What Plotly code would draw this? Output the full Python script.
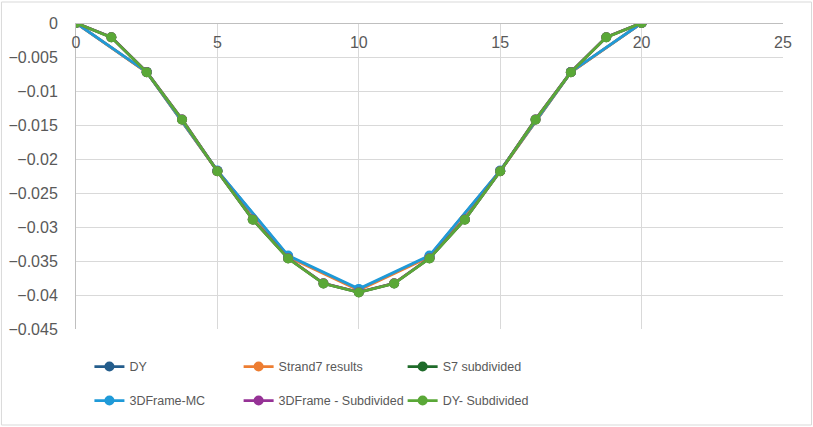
import plotly.graph_objects as go

# node positions along the member
x_coarse = [0, 2.5, 5, 7.5, 10, 12.5, 15, 17.5, 20]
x_fine = [0, 1.25, 2.5, 3.75, 5, 6.25, 7.5, 8.75, 10,
          11.25, 12.5, 13.75, 15, 16.25, 17.5, 18.75, 20]

# deflections
dy = [0, -0.00723, -0.02175, -0.03430, -0.03920, -0.03430, -0.02175, -0.00723, 0]
strand7 = [0, -0.00725, -0.02180, -0.03440, -0.03930, -0.03440, -0.02180, -0.00725, 0]
s7_sub = [0, -0.00210, -0.00722, -0.01420, -0.02180, -0.02890, -0.03460, -0.03830, -0.03960,
          -0.03830, -0.03460, -0.02890, -0.02180, -0.01420, -0.00722, -0.00210, 0]
frame_mc = [0, -0.00720, -0.02170, -0.03420, -0.03910, -0.03420, -0.02170, -0.00720, 0]
frame_sub = [0, -0.00210, -0.00721, -0.01418, -0.02178, -0.02888, -0.03458, -0.03828, -0.03958,
             -0.03828, -0.03458, -0.02888, -0.02178, -0.01418, -0.00721, -0.00210, 0]
dy_sub = [0, -0.00211, -0.00723, -0.01421, -0.02181, -0.02892, -0.03462, -0.03832, -0.03962,
          -0.03832, -0.03462, -0.02892, -0.02181, -0.01421, -0.00723, -0.00211, 0]

series = [
    ("DY", x_coarse, dy, "#245d8c"),
    ("Strand7 results", x_coarse, strand7, "#ed7d31"),
    ("S7 subdivided", x_fine, s7_sub, "#1f6b2a"),
    ("3DFrame-MC", x_coarse, frame_mc, "#1f9ad8"),
    ("3DFrame - Subdivided", x_fine, frame_sub, "#963296"),
    ("DY- Subdivided", x_fine, dy_sub, "#5aa837"),
]

# one small legend per entry, laid out as a 3 x 2 grid like the Excel legend
legend_names = ["legend", "legend2", "legend3", "legend4", "legend5", "legend6"]
col_x = [0.019, 0.230, 0.462]
row_y = [-0.124, -0.235]

grid = "#d9d9d9"
tick_font = dict(family="Liberation Sans, Arial, sans-serif", size=16, color="#595959")
legend_font = dict(family="Liberation Sans, Arial, sans-serif", size=12.5, color="#595959")

fig = go.Figure()
for (name, xs, ys, color), leg in zip(series, legend_names):
    fig.add_trace(go.Scatter(
        x=xs, y=ys, name=name, mode="lines+markers",
        line=dict(color=color, width=2.8),
        marker=dict(color=color, size=10),
        legend=leg,
    ))

legends = {}
for i, leg in enumerate(legend_names):
    legends[leg] = dict(
        orientation="h", x=col_x[i % 3], y=row_y[i // 3],
        xanchor="left", yanchor="middle", itemwidth=30,
        font=legend_font, bgcolor="rgba(0,0,0,0)",
    )

fig.update_layout(
    width=813, height=427,
    margin=dict(l=76, r=30, t=23, b=98, autoexpand=False),
    paper_bgcolor="white", plot_bgcolor="white",
    showlegend=True,
    xaxis=dict(
        range=[0, 25], dtick=5, side="bottom", anchor="free", position=1,
        showgrid=True, gridcolor=grid, gridwidth=1,
        showline=True, linecolor="#bfbfbf", linewidth=1,
        zeroline=False, tickfont=tick_font, ticklabelstandoff=5,
    ),
    yaxis=dict(
        range=[-0.045, 0], dtick=0.005,
        showgrid=True, gridcolor=grid, gridwidth=1,
        showline=True, linecolor="#bfbfbf", linewidth=1,
        zeroline=False, tickfont=tick_font, ticklabelstandoff=14,
    ),
    shapes=[dict(
        type="rect", xref="paper", yref="paper",
        x0=-74.5 / 706.5, x1=1 + 28.5 / 706.5, y0=-96 / 306, y1=1 + 21 / 306,
        line=dict(color="#d9d9d9", width=1), fillcolor="rgba(0,0,0,0)", layer="below",
    )],
    **legends,
)

fig.write_html("out.html", config={"displayModeBar": False},
               post_script="document.body.style.margin='0px';")
